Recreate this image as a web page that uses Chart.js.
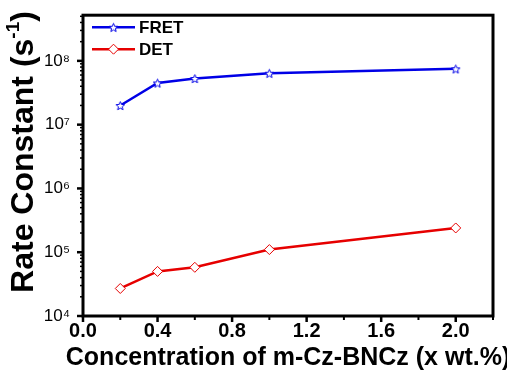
<!DOCTYPE html>
<html lang="en">
<head>
    <meta charset="UTF-8">
    <title>Rate Constant</title>
    <script src="https://cdn.jsdelivr.net/npm/chart.js"></script>
    <style>
        html, body { margin: 0; padding: 0; background: #fff; }
        #wrap { width: 507px; height: 376px; }
    </style>
</head>
<body>
<div id="wrap"><canvas id="myChart" width="507" height="376"></canvas></div>
<script>
    // data
    const concentration = [0.2, 0.4, 0.6, 1.0, 2.0];
    const fretRate = [2.0e7, 4.5e7, 5.3e7, 6.4e7, 7.5e7];
    const detRate = [2.7e4, 5.0e4, 5.8e4, 1.1e5, 2.4e5];
    const xTicks = [0, 0.4, 0.8, 1.2, 1.6, 2.0];
    const xMinorTicks = [0.2, 0.6, 1.0, 1.4, 1.8, 2.2];
    const yTicks = [1e4, 1e5, 1e6, 1e7, 1e8];
    const yTickLabels = ['10\u2074', '10\u2075', '10\u2076', '10\u2077', '10\u2078'];
    const xTitle = 'Concentration of m-Cz-BNCz (x wt.%)';

    const BLUE = 'rgb(0,0,230)';
    const RED = 'rgb(230,0,0)';
    const FONT = "'Liberation Sans', Arial, sans-serif";

    // 5-point open star marker
    function makeStar(color, size) {
        const c = document.createElement('canvas');
        c.width = size; c.height = size;
        const g = c.getContext('2d');
        const cx = size / 2, cy = size / 2 + 0.6, R = size / 2 - 1, r = R * 0.45;
        g.beginPath();
        for (let i = 0; i < 10; i++) {
            const a = -Math.PI / 2 + i * Math.PI / 5;
            const rad = i % 2 ? r : R;
            const px = cx + rad * Math.cos(a), py = cy + rad * Math.sin(a);
            if (i === 0) g.moveTo(px, py); else g.lineTo(px, py);
        }
        g.closePath();
        g.fillStyle = '#fff';
        g.fill();
        g.strokeStyle = color;
        g.lineWidth = 1;
        g.stroke();
        return c;
    }
    const starImg = makeStar(BLUE, 11);

    // frame + outward ticks + axis titles
    const framePlugin = {
        id: 'frame',
        afterDraw(chart) {
            const ctx = chart.ctx, a = chart.chartArea;
            const xs = chart.scales.x, ys = chart.scales.y;
            ctx.save();
            ctx.strokeStyle = '#000';
            ctx.lineCap = 'butt';
            function tickX(v, len, w) {
                const px = xs.getPixelForValue(v);
                ctx.lineWidth = w;
                ctx.beginPath(); ctx.moveTo(px, a.bottom); ctx.lineTo(px, a.bottom + len); ctx.stroke();
            }
            function tickY(v, len, w) {
                const py = ys.getPixelForValue(v);
                ctx.lineWidth = w;
                ctx.beginPath(); ctx.moveTo(a.left, py); ctx.lineTo(a.left - len, py); ctx.stroke();
            }
            xTicks.forEach(v => tickX(v, 6, 2.5));
            xMinorTicks.forEach(v => tickX(v, 4, 2));
            yTicks.forEach(v => tickY(v, 6, 2.5));
            for (let d = 4; d <= 8; d++) {
                for (let m = 2; m <= 9; m++) {
                    const v = m * Math.pow(10, d);
                    if (v <= ys.max) tickY(v, 3, 1.5);
                }
            }
            ctx.lineWidth = 3;
            ctx.strokeRect(a.left, a.top, a.right - a.left, a.bottom - a.top);

            // x title (free width, may run past the plot)
            ctx.fillStyle = '#000';
            ctx.font = 'bold 25px ' + FONT;
            ctx.textAlign = 'center';
            ctx.textBaseline = 'middle';
            ctx.fillText(xTitle, (a.left + a.right) / 2, 358);

            // y title with superscript
            ctx.translate(24, 152);
            ctx.rotate(-Math.PI / 2);
            ctx.textAlign = 'left';
            const main = 'Rate Constant (s', sup = '-1', tail = ')';
            const f1 = 'bold 32px ' + FONT, f2 = 'bold 19px ' + FONT;
            ctx.font = f1;
            const w1 = ctx.measureText(main).width, w3 = ctx.measureText(tail).width;
            ctx.font = f2;
            const w2 = ctx.measureText(sup).width;
            const x0 = -(w1 + w2 + w3) / 2;
            ctx.font = f1; ctx.fillText(main, x0, 0);
            ctx.font = f2; ctx.fillText(sup, x0 + w1, -10);
            ctx.font = f1; ctx.fillText(tail, x0 + w1 + w2, 0);
            ctx.restore();
        }
    };

    // legend inside the plot, line + marker
    const legendPlugin = {
        id: 'inLegend',
        afterDraw(chart) {
            const ctx = chart.ctx, a = chart.chartArea;
            ctx.save();
            chart.data.datasets.forEach((ds, i) => {
                const y = a.top + 12 + i * 22;
                const x1 = a.left + 9, x2 = a.left + 52;
                ctx.strokeStyle = ds.borderColor;
                ctx.lineWidth = ds.borderWidth;
                ctx.beginPath(); ctx.moveTo(x1, y); ctx.lineTo(x2, y); ctx.stroke();
                ctx.fillStyle = '#fff';
                ctx.strokeStyle = ds.pointBorderColor;
                ctx.lineWidth = ds.pointBorderWidth;
                Chart.helpers.drawPoint(ctx, {
                    pointStyle: ds.pointStyle, radius: ds.pointRadius, rotation: 0, borderWidth: ds.pointBorderWidth
                }, (x1 + x2) / 2, y);
                ctx.fillStyle = '#000';
                ctx.font = 'bold 17px ' + FONT;
                ctx.textBaseline = 'middle';
                ctx.textAlign = 'left';
                ctx.fillText(ds.label, x2 + 4, y + 1);
            });
            ctx.restore();
        }
    };

    const ctx = document.getElementById('myChart').getContext('2d');
    const myChart = new Chart(ctx, {
        type: 'line',
        data: {
            datasets: [{
                label: 'FRET',
                data: concentration.map((c, i) => ({ x: c, y: fretRate[i] })),
                borderColor: BLUE,
                borderWidth: 2.5,
                pointStyle: starImg,
                pointRadius: 5,
                pointBorderColor: BLUE,
                pointBorderWidth: 1,
                pointBackgroundColor: '#fff',
                fill: false
            }, {
                label: 'DET',
                data: concentration.map((c, i) => ({ x: c, y: detRate[i] })),
                borderColor: RED,
                borderWidth: 2.5,
                pointStyle: 'rectRot',
                pointRadius: 5,
                pointBorderColor: RED,
                pointBorderWidth: 1,
                pointBackgroundColor: '#fff',
                fill: false
            }]
        },
        options: {
            responsive: false,
            animation: false,
            layout: { padding: { left: 0, right: 14, top: 14, bottom: 0 } },
            plugins: { legend: { display: false }, tooltip: { enabled: false } },
            scales: {
                x: {
                    type: 'linear',
                    min: 0,
                    max: 2.2,
                    afterBuildTicks: s => { s.ticks = xTicks.map(v => ({ value: v })); },
                    afterFit: s => { s.height = 60; },
                    grid: { display: false },
                    border: { display: false },
                    ticks: {
                        autoSkip: false,
                        maxRotation: 0,
                        padding: -5,
                        color: '#000',
                        font: { family: FONT, size: 20, weight: 'bold' },
                        callback: v => Number(v).toFixed(1)
                    }
                },
                y: {
                    type: 'logarithmic',
                    min: 1e4,
                    max: 5.2e8,
                    afterBuildTicks: s => { s.ticks = yTicks.map(v => ({ value: v, major: true })); },
                    afterFit: s => { s.width = 83; },
                    grid: { display: false },
                    border: { display: false },
                    ticks: {
                        autoSkip: false,
                        padding: 5,
                        color: '#000',
                        font: { family: FONT, size: 17 },
                        callback: v => yTickLabels[yTicks.indexOf(v)] || ''
                    }
                }
            }
        },
        plugins: [framePlugin, legendPlugin]
    });
</script>
</body>
</html>
